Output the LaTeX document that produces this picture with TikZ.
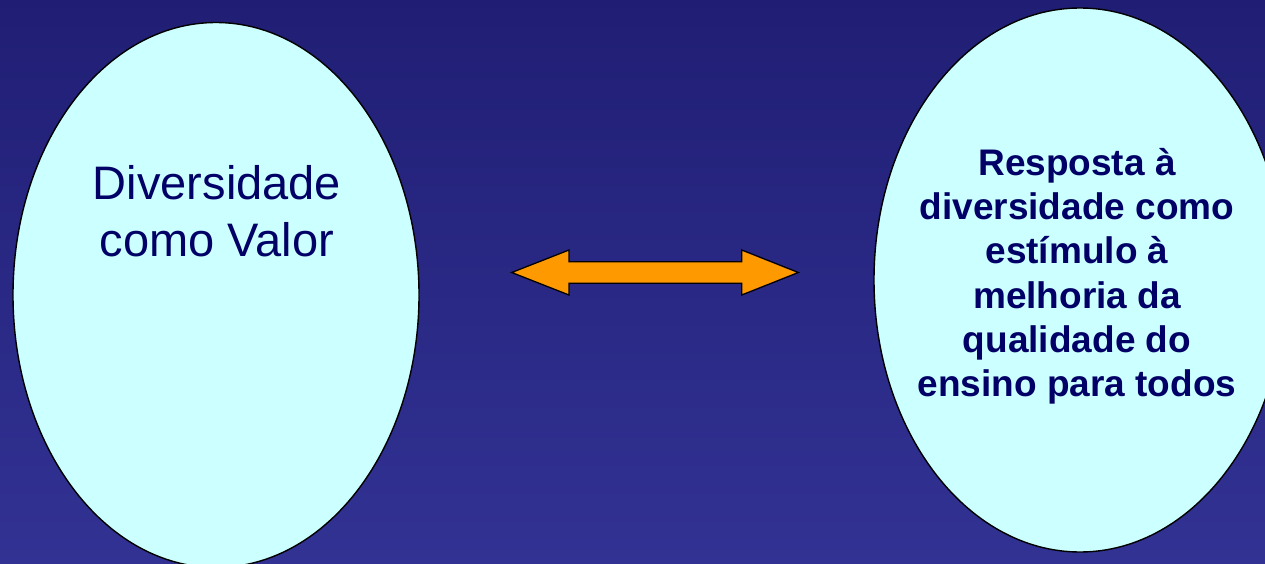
\documentclass[tikz,border=0pt]{standalone}
\usepackage{fontspec}
\setmainfont{Liberation Sans}
\usetikzlibrary{shapes.geometric}
\definecolor{bgtop}{RGB}{32,30,116}
\definecolor{bgbot}{RGB}{50,50,148}
\definecolor{ellfill}{RGB}{204,255,255}
\definecolor{txtnavy}{RGB}{0,0,102}
\definecolor{arrorange}{RGB}{255,153,0}
\tikzset{
  bubble/.style={ellipse, draw=black, line width=1.4pt, fill=ellfill, inner sep=0pt},
  lefttext/.style={align=center, text=txtnavy, font=\fontsize{47}{57}\selectfont, inner sep=0pt},
  righttext/.style={align=center, text=txtnavy, font=\fontsize{37}{44.3}\selectfont\bfseries, inner sep=0pt},
  bigarrow/.style={draw=black, line width=1.3pt, fill=arrorange, line join=miter}
}
\begin{document}
\begin{tikzpicture}[x=1pt,y=-1pt]
\useasboundingbox (0,0) rectangle (1265,564);
\clip (0,0) rectangle (1265,564);
\shade[top color=bgtop, bottom color=bgbot] (0,0) rectangle (1265,564);
\node[bubble, minimum width=406pt, minimum height=545pt] (L) at (216,295) {};
\node[bubble, minimum width=412pt, minimum height=544pt] (R) at (1080,280) {};
\node[lefttext] (Ltext) at (217,211.5) {Diversidade\\como Valor};
\node[righttext] (Rtext) at (1077,276.2) {Resposta à\\diversidade como\\estímulo à\\melhoria da\\qualidade do\\ensino para todos};
\coordinate (A) at (655,272.5);
\draw[bigarrow] ([xshift=-143.3pt]A) -- ([xshift=-86pt,yshift=-22.5pt]A) -- ([xshift=-86pt,yshift=-10.8pt]A)
  -- ([xshift=86.7pt,yshift=-10.8pt]A) -- ([xshift=86.7pt,yshift=-22.5pt]A) -- ([xshift=143.3pt]A)
  -- ([xshift=86.7pt,yshift=22.5pt]A) -- ([xshift=86.7pt,yshift=10.8pt]A) -- ([xshift=-86pt,yshift=10.8pt]A)
  -- ([xshift=-86pt,yshift=22.5pt]A) -- cycle;
\end{tikzpicture}
\end{document}
